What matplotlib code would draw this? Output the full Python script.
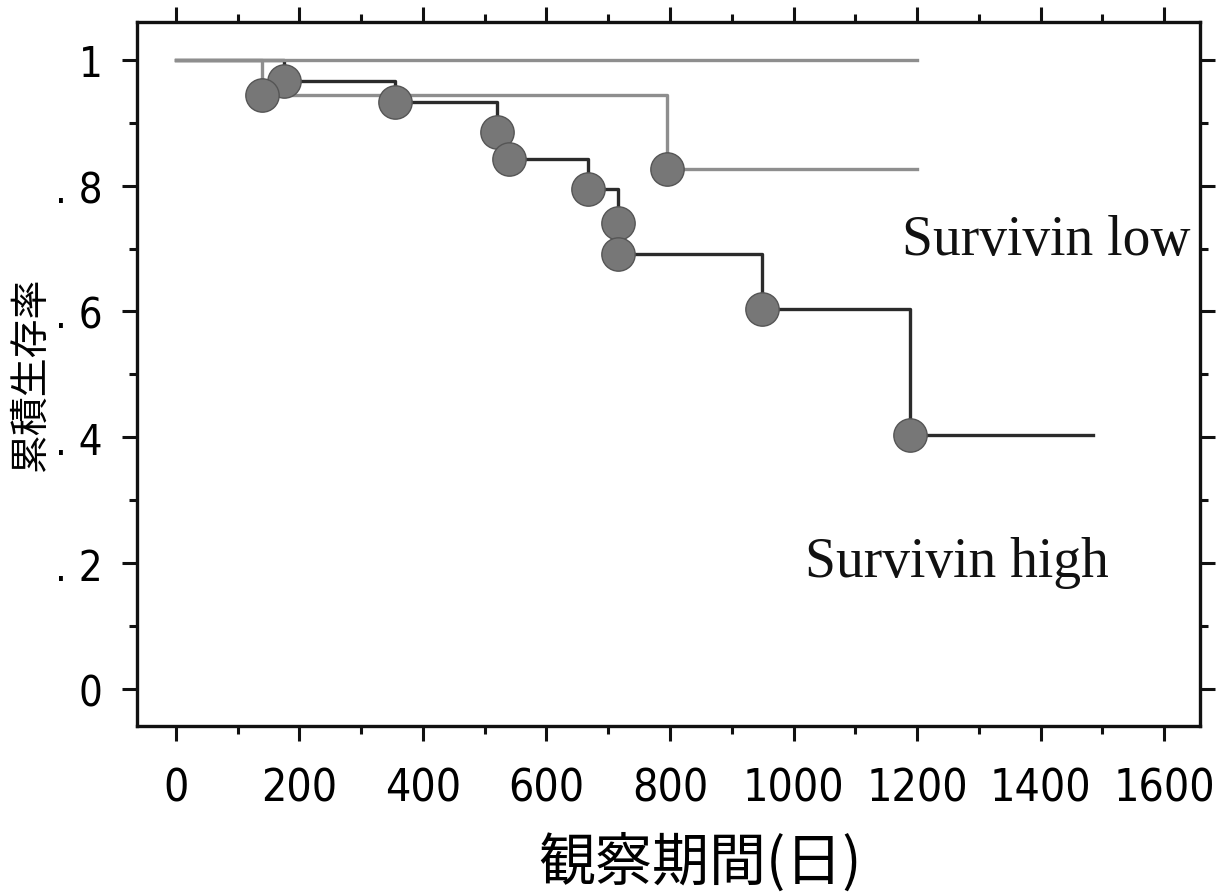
import matplotlib
matplotlib.use('Agg')
import matplotlib.pyplot as plt
from matplotlib import font_manager as fm
from matplotlib.ticker import MultipleLocator, FixedLocator

# ---------------- data ----------------
# Survivin low group (grey line)
low_times = [0, 139, 795, 1200]
low_surv = [1.0, 0.944, 0.826, 0.826]

# flat grey line at 1.0 (no events)
flat_times = [0, 1200]
flat_surv = [1.0, 1.0]

# Survivin high group (dark line)
high_times = [0, 175, 355, 520, 540, 667, 716, 716, 949, 1189, 1484]
high_surv = [1.0, 0.967, 0.933, 0.886, 0.842, 0.795, 0.741, 0.691, 0.604, 0.403, 0.403]

x_ticks = [0, 200, 400, 600, 800, 1000, 1200, 1400, 1600]
x_ticklabels = ['0', '200', '400', '600', '800', '1000', '1200', '1400', '1600']
y_ticks = [0, 0.2, 0.4, 0.6, 0.8, 1.0]
y_ticklabels = ['0', '. 2', '. 4', '. 6', '. 8', '1']

xlabel = '観察期間(日)'
ylabel = '累積生存率'
label_low = 'Survivin low'
label_high = 'Survivin high'

# ---------------- fonts ----------------
names = {f.name for f in fm.fontManager.ttflist}
if 'Liberation Sans Narrow' in names:
    tick_fp = dict(family='Liberation Sans Narrow')
else:
    tick_fp = dict(family='DejaVu Sans', stretch='condensed')
cjk = ['Noto Sans CJK JP', 'DejaVu Sans']
serif = ['Liberation Serif', 'DejaVu Serif']

# ---------------- figure ----------------
fig = plt.figure(figsize=(12.24, 8.95), dpi=100)
ax = fig.add_axes([0.1119, 0.1877, 0.8685, 0.7866])

dark = '#2b2b2b'
grey = '#8e8e8e'
lw = 2.4

ax.step(high_times, high_surv, where='post', color=dark, lw=lw, zorder=2)
ax.step(flat_times, flat_surv, where='post', color=grey, lw=lw, zorder=3)
ax.step(low_times, low_surv, where='post', color=grey, lw=lw, zorder=3)

# event markers (at each drop)
hx = high_times[1:-1]
hy = high_surv[1:-1]
lx = low_times[1:-1]
ly = low_surv[1:-1]
mk = dict(marker='o', ls='none', ms=24, mfc='#777777', mec='#555555', mew=1.0, zorder=5)
ax.plot(hx, hy, **mk)
ax.plot(lx, ly, **mk)

# text annotations
ax.text(1176, 0.692, label_low, family=serif, fontsize=40, ha='left', va='baseline', color='#111111')
ax.text(1019, 0.180, label_high, family=serif, fontsize=40, ha='left', va='baseline', color='#111111')

# axes limits
ax.set_xlim(-63, 1658)
ax.set_ylim(-0.0587, 1.060)

# ticks
ax.xaxis.set_major_locator(FixedLocator(x_ticks))
ax.xaxis.set_minor_locator(MultipleLocator(100))
ax.yaxis.set_major_locator(FixedLocator(y_ticks))
ax.yaxis.set_minor_locator(MultipleLocator(0.1))
ax.set_xticklabels(x_ticklabels, fontsize=32, **tick_fp)
ax.set_yticklabels(y_ticklabels, fontsize=30, **tick_fp)

ax.tick_params(which='both', direction='out', top=True, right=True, width=2.2, color='#111111')
ax.tick_params(which='major', length=11)
ax.tick_params(which='minor', length=6)
ax.tick_params(axis='x', which='major', pad=18)
ax.tick_params(axis='y', which='major', pad=14)

for s in ax.spines.values():
    s.set_linewidth(2.4)
    s.set_color('#111111')

ax.set_xlabel(xlabel, family=cjk, fontsize=41)
ax.xaxis.set_label_coords(0.5296, -0.193, transform=ax.transAxes)
ax.xaxis.label.set_va('center')
ax.set_ylabel(ylabel, family=cjk, fontsize=28, labelpad=3)

fig.savefig('out.png', dpi=100, facecolor='white')
